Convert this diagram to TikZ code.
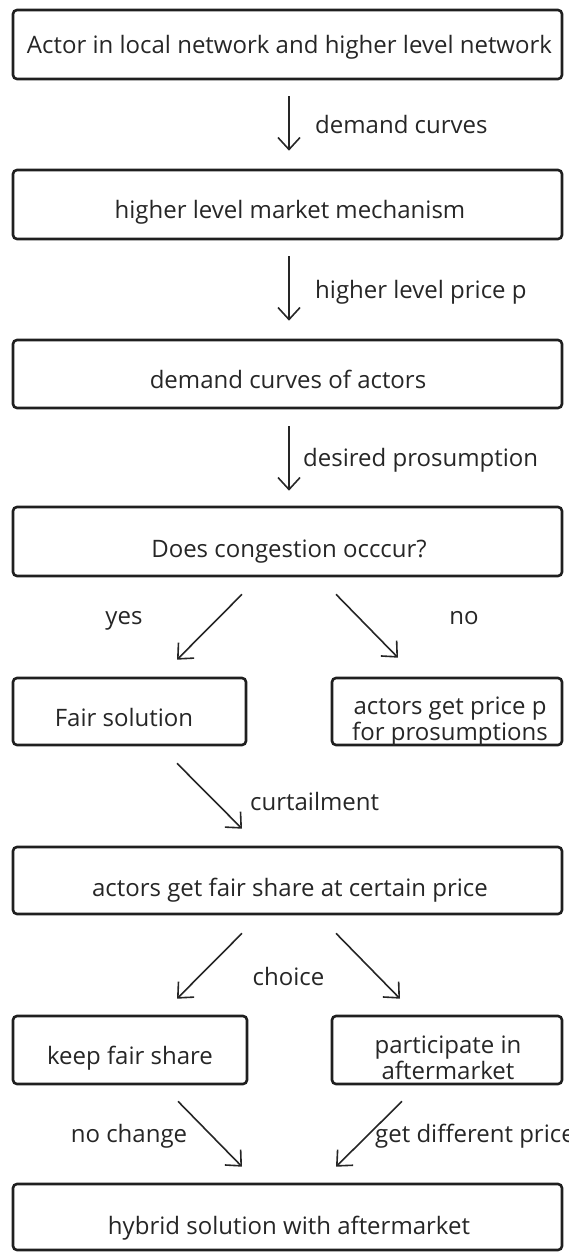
\documentclass[tikz,border=0pt]{standalone}
\usepackage{fontspec}
\setmainfont{Open Sans}
\usetikzlibrary{arrows.meta}
\begin{document}
\begin{tikzpicture}[x=1pt,y=-1pt,
 box/.style={draw=black!88, line width=2.6pt, rounded corners=4pt, inner sep=0pt},
 txt/.style={font=\fontsize{24}{26}\selectfont, text=black!85, inner sep=0pt, anchor=mid, yshift=-4pt},
 ltxt/.style={txt, anchor=mid west},
 mtxt/.style={font=\fontsize{24}{26}\selectfont, text=black!85, inner sep=0pt, align=center, anchor=center, yshift=-3pt},
 arr/.style={draw=black!85, line width=1.6pt, -{Straight Barb[length=12pt,width=22pt,line width=1.6pt]}}]
\useasboundingbox (0,0) rectangle (569,1252);
% boxes
\node[box, minimum width=549pt, minimum height=69pt] (b1) at (287.5,44.5) {};
\node[box, minimum width=549pt, minimum height=69pt] (b2) at (287.5,204.5) {};
\node[box, minimum width=549pt, minimum height=68pt] (b3) at (287.5,374) {};
\node[box, minimum width=549pt, minimum height=69pt] (b4) at (287.5,541.5) {};
\node[box, minimum width=233pt, minimum height=67pt] (b5) at (129.5,711.5) {};
\node[box, minimum width=230pt, minimum height=67pt] (b6) at (447,711.5) {};
\node[box, minimum width=549pt, minimum height=67pt] (b7) at (287.5,880.5) {};
\node[box, minimum width=234pt, minimum height=68pt] (b8) at (130,1050) {};
\node[box, minimum width=230pt, minimum height=68pt] (b9) at (447,1050) {};
\node[box, minimum width=549pt, minimum height=66pt] (b10) at (287.5,1217) {};
% box texts
\node[txt] (t1) at (289.5,47) {Actor in local network and higher level network};
\node[txt] (t2) at (290,212) {higher level market mechanism};
\node[txt] (t3) at (288,382) {demand curves of actors};
\node[txt] (t4) at (289,551) {Does congestion occcur?};
\node[txt] (t5) at (124,720) {Fair solution};
\node[mtxt] (t6) at (450,719) {actors get price p\\for prosumptions};
\node[txt] (t7) at (290,890) {actors get fair share at certain price};
\node[txt] (t8) at (130,1058) {keep fair share};
\node[mtxt] (t9) at (448,1055) {participate in\\aftermarket};
\node[txt] (t10) at (289,1228) {hybrid solution with aftermarket};
% connectors
\draw[arr] ([xshift=1.5pt,yshift=-16pt]b1.south) -- ([xshift=1.5pt,yshift=18pt]b2.north);
\draw[arr] ([xshift=1.5pt,yshift=-16pt]b2.south) -- ([xshift=1.5pt,yshift=18pt]b3.north);
\draw[arr] ([xshift=1.5pt,yshift=-17pt]b3.south) -- ([xshift=1.5pt,yshift=15pt]b4.north);
\draw[arr] ([xshift=-45.5pt,yshift=-17pt]b4.south) -- ([xshift=47.5pt,yshift=17pt]b5.north);
\draw[arr] ([xshift=48.5pt,yshift=-17pt]b4.south) -- ([xshift=-49pt,yshift=19pt]b6.north);
\draw[arr] ([xshift=47.5pt,yshift=-17pt]b5.south) -- ([xshift=-45.5pt,yshift=17pt]b7.north);
\draw[arr] ([xshift=-45.5pt,yshift=-18pt]b7.south) -- ([xshift=47pt,yshift=16pt]b8.north);
\draw[arr] ([xshift=48.5pt,yshift=-18pt]b7.south) -- ([xshift=-47pt,yshift=16pt]b9.north);
\draw[arr] ([xshift=48pt,yshift=-16pt]b8.south) -- ([xshift=-45.5pt,yshift=16pt]b10.north);
\draw[arr] ([xshift=-45pt,yshift=-16pt]b9.south) -- ([xshift=48.5pt,yshift=16pt]b10.north);
% connector labels
\node[ltxt] (l1) at (315,127) {demand curves};
\node[ltxt] (l2) at (315,292) {higher level price p};
\node[ltxt] (l3) at (303,460) {desired prosumption};
\node[txt] (l4) at (124,618) {yes};
\node[txt] (l5) at (464,618) {no};
\node[ltxt] (l6) at (250,804) {curtailment};
\node[txt] (l7) at (288.5,979) {choice};
\node[txt] (l8) at (129,1136) {no change};
\node[ltxt] (l9) at (375,1136) {get different price};
\end{tikzpicture}
\end{document}
